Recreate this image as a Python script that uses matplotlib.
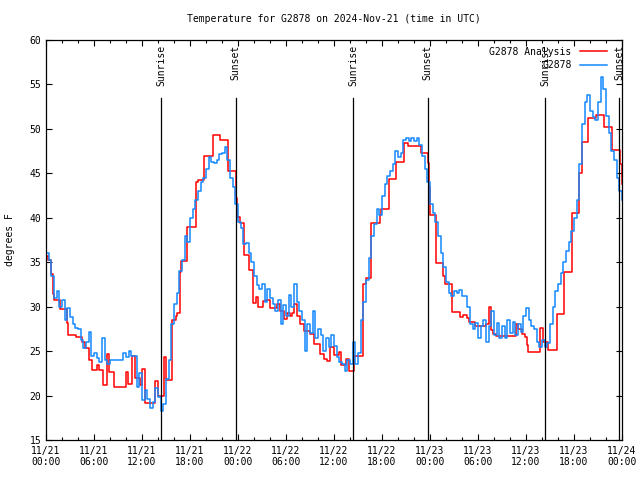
import numpy as np
import matplotlib
matplotlib.use("Agg")
import matplotlib.pyplot as plt

# analysis (red): step change times in hours since 11/21 00:00 UTC and values
red_hours = [0.0, 0.2, 0.67, 0.92, 1.05, 1.76, 2.6, 2.8, 3.8, 4.55, 4.85, 5.4, 5.7, 6.4,
             6.65, 7.07, 7.6, 7.9, 8.55, 9.95, 10.2, 10.8, 11.1, 11.8, 12.0, 12.42, 13.68,
             13.97, 14.73, 14.97, 15.77, 16.2, 16.4, 16.73, 16.85, 17.65, 18.7, 19.0, 19.74,
             20.91, 21.75, 22.75, 23.71, 23.93, 24.2, 24.76, 25.43, 25.85, 26.27, 26.56,
             27.18, 27.55, 27.94, 28.86, 29.28, 29.7, 30.11, 30.45, 30.74, 31.0, 31.37,
             31.79, 32.2, 32.96, 33.46, 34.21, 34.71, 35.13, 35.55, 35.97, 36.68, 36.9,
             37.5, 37.93, 38.48, 39.68, 39.94, 40.65, 41.7, 41.9, 42.83, 43.79, 44.75,
             45.25, 46.9, 47.76, 47.9, 48.0, 48.8, 49.65, 49.85, 50.7, 51.7, 52.1, 52.6,
             52.9, 53.6, 55.0, 55.4, 55.6, 55.9, 56.3, 58.76, 59.05, 59.5, 59.9, 60.1,
             60.3, 61.77, 62.07, 62.8, 63.86, 64.7, 65.74, 66.6, 67.0, 67.8, 68.8, 69.8,
             70.75, 71.7, 72.0]
red_temp = [35.75, 35.2, 33.7, 31.4, 30.7, 29.7, 28.2, 26.8, 26.6, 26.0, 25.4, 24.0, 22.9, 23.4,
            22.9, 21.2, 24.7, 22.6, 21.0, 22.6, 21.3, 24.5, 22.0, 21.2, 23.0, 19.2, 21.6,
            19.9, 24.3, 21.75, 28.5, 28.9, 29.3, 33.9, 35.1, 39.0, 44.0, 44.2, 46.95,
            49.3, 48.75, 45.26, 42.2, 40.1, 39.4, 35.8, 34.1, 30.4, 31.1, 30.0,
            30.6, 30.8, 29.9, 30.3, 29.5, 28.6, 29.3, 29.0, 29.3, 30.3, 29.0,
            28.0, 27.3, 26.9, 25.8, 24.7, 24.1, 23.9, 25.5, 24.6, 24.9, 23.4,
            24.1, 22.8, 24.5, 32.6, 33.2, 39.4, 40.3, 41.0, 44.4, 46.3, 48.4,
            48.1, 47.3, 46.2, 43.5, 40.3, 34.9, 33.5, 32.6, 29.4, 28.8, 29.1, 28.7,
            28.3, 27.8, 28.1, 30.0, 27.4, 26.9, 26.7, 28.0, 27.5, 26.9, 26.6, 25.7,
            24.9, 27.6, 26.0, 25.1, 29.2, 33.9, 40.5, 45.0, 48.5, 51.2, 51.6, 50.25,
            47.6, 46.1, 43.8]

# observations (blue): every 20 minutes from 11/21 00:00 UTC
obs_temp = [
    36.0, 35.2, 33.5, 31.0, 31.8, 30.0, 30.8, 28.5, 29.8, 28.8, 28.0, 27.6,
    27.5, 26.2, 25.3, 26.0, 27.2, 24.5, 24.8, 24.2, 23.8, 26.5, 24.0, 23.5,
    24.0, 24.0, 24.0, 24.0, 24.0, 24.8, 24.3, 25.0, 24.5, 24.5, 21.0, 22.5,
    19.5, 20.6, 19.6, 18.6, 19.3, 20.8, 19.8, 18.3, 19.0, 21.9, 24.0, 28.0,
    30.3, 31.5, 34.0, 35.3, 38.0, 37.3, 40.0, 41.0, 42.0, 43.0, 44.0, 44.5,
    45.5, 46.8, 46.3, 46.2, 46.5, 47.2, 47.3, 48.0, 46.5, 44.5, 43.5, 41.5,
    39.5, 38.8, 37.0, 37.2, 36.0, 35.0, 33.5, 32.4, 32.0, 32.5, 30.5, 32.0,
    31.0, 30.3, 29.5, 30.8, 28.0, 30.2, 29.0, 31.3, 30.0, 32.5, 30.5, 29.5,
    28.5, 25.0, 28.0, 27.0, 29.5, 26.5, 27.5, 26.8, 25.0, 26.5, 25.5, 26.8,
    25.6, 24.3, 23.8, 23.5, 22.8, 24.0, 23.6, 26.0, 23.5, 24.8, 28.5, 30.5,
    33.0, 35.5, 38.0, 39.3, 41.0, 40.3, 42.5, 43.8, 44.7, 45.3, 46.0, 47.5,
    46.8, 47.3, 48.7, 49.0, 48.6, 49.0, 48.6, 49.0, 48.2, 47.0, 45.5, 44.0,
    41.5, 40.5, 39.5, 38.0, 36.0, 34.5, 32.8, 31.5, 31.2, 31.8, 31.5, 31.9,
    31.2, 31.2, 30.0, 28.0, 27.5, 28.2, 26.5, 27.8, 28.5, 26.0, 27.8, 29.5,
    26.8, 28.2, 26.5, 27.8, 26.5, 28.5, 27.0, 28.3, 26.8, 28.0, 27.2, 29.0,
    29.8, 28.5, 27.8, 27.5, 26.0, 25.5, 26.2, 25.5, 25.9, 28.0, 30.0, 31.8,
    32.5, 33.8, 35.0, 36.3, 37.3, 38.5, 40.0, 42.0, 46.0, 50.5, 53.0, 53.8,
    52.0, 51.3, 51.0, 53.0, 55.8, 54.5, 51.5, 49.5, 47.5, 46.5, 44.5, 43.0,
    42.0]
obs_hours = np.arange(len(obs_temp)) / 3.0

sun_hours = [14.4, 23.7, 38.4, 47.7, 62.4, 71.65]
sun_labels = ["Sunrise", "Sunset", "Sunrise", "Sunset", "Sunrise", "Sunset"]

tick_hours = np.arange(0, 73, 6)
tick_labels = ["11/21\n00:00", "11/21\n06:00", "11/21\n12:00", "11/21\n18:00",
               "11/22\n00:00", "11/22\n06:00", "11/22\n12:00", "11/22\n18:00",
               "11/23\n00:00", "11/23\n06:00", "11/23\n12:00", "11/23\n18:00",
               "11/24\n00:00"]

plt.rcParams["font.family"] = ["DejaVu Sans Mono"]
plt.rcParams["font.size"] = 7

fig = plt.figure(figsize=(6.4, 4.8), dpi=100)
ax = fig.add_axes([46 / 640, 40 / 480, 576 / 640, 400 / 480])

ax.plot(red_hours, red_temp, drawstyle="steps-post", color="#ff0000", lw=1.1,
        label="G2878 Analysis")
ax.plot(obs_hours, obs_temp, drawstyle="steps-post", color="#1487ff", lw=1.1,
        label="G2878")

for t, lab in zip(sun_hours, sun_labels):
    ax.axvline(t, ymin=0, ymax=0.855, color="black", lw=0.9)
    ax.text(t, 0.988, lab, transform=ax.get_xaxis_transform(), rotation=90,
            ha="center", va="top", fontsize=7)

ax.set_xlim(0, 72)
ax.set_ylim(15, 60)
ax.set_xticks(tick_hours)
ax.set_xticklabels(tick_labels)
ax.set_xticks(np.arange(0, 73, 2), minor=True)
ax.set_yticks(np.arange(15, 61, 5))
ax.tick_params(which="both", direction="in", top=True, right=True, labelsize=7)
ax.tick_params(which="major", length=4, width=0.8)
ax.tick_params(which="minor", length=2, width=0.8)
ax.tick_params(axis="x", pad=4)
for s in ax.spines.values():
    s.set_linewidth(0.9)

ax.set_ylabel("degrees F", fontsize=7, labelpad=10)
ax.set_title("Temperature for G2878 on 2024-Nov-21 (time in UTC)", fontsize=7, pad=13)

ax.legend(loc="upper right", bbox_to_anchor=(0.985, 1.0), frameon=False,
          markerfirst=False, handlelength=2.7, handletextpad=0.9,
          labelspacing=0.35, fontsize=7, borderaxespad=0.3)

fig.savefig("out.png", dpi=100)
